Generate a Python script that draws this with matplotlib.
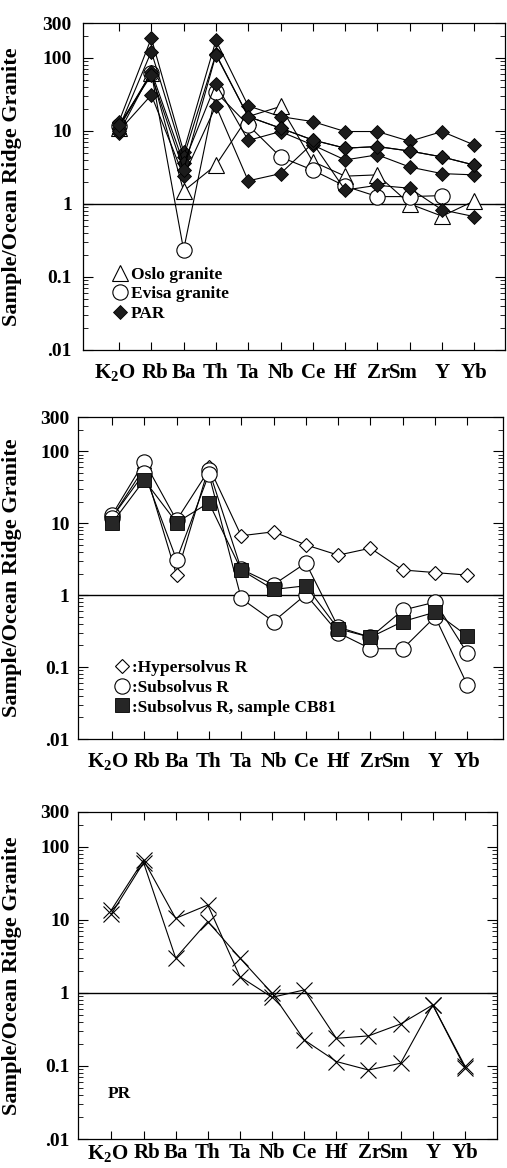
import numpy as np
import matplotlib
matplotlib.use("Agg")
import matplotlib.pyplot as plt
import matplotlib.transforms as mtransforms
from matplotlib.lines import Line2D
from matplotlib.ticker import LogLocator, NullFormatter

plt.rcParams["font.family"] = ["Liberation Serif", "DejaVu Serif"]
plt.rcParams["font.weight"] = "bold"
plt.rcParams["mathtext.fontset"] = "custom"
plt.rcParams["mathtext.rm"] = "Liberation Serif:bold"
plt.rcParams["mathtext.bf"] = "Liberation Serif:bold"
plt.rcParams["mathtext.it"] = "Liberation Serif:bold"
plt.rcParams["mathtext.default"] = "bf"

# ---- data -----------------------------------------------------------------
elements = [r"K$_2$O", "Rb", "Ba", "Th", "Ta", "Nb", "Ce", "Hf", "Zr", "Sm", "Y", "Yb"]
ytick_vals = [0.01, 0.1, 1, 10, 100, 300]
ytick_text = [".01", "0.1", "1", "10", "100", "300"]

# panel 1: Oslo granite, Evisa granite, PAR samples
oslo = [11, 62, 1.5, 3.4, 15.7, 21.6, 3.8, 2.4, 2.5, 1.0, 0.68, 1.1]
evisa = [11.5, 63, 0.235, 34, 12, 4.4, 2.9, 1.75, 1.26, 1.26, 1.3, np.nan]
par_1 = [13.4, 186, 5.2, 173, 22, 15.7, 13.4, 9.8, 9.8, 7.2, 9.8, 6.4]
par_2 = [11, 122, 4.4, 113, 15.7, 10.9, 7.5, 5.8, 6.1, 5.3, 4.4, 3.4]
par_3 = [9.4, 65, 3.6, 44, 7.4, 9.8, 6.4, 4.0, 4.7, 3.2, 2.6, 2.5]
par_4 = [10, 31, 2.4, 22, 2.07, 2.6, 6.8, 1.55, 1.8, 1.64, 0.83, 0.67]
par_5 = [12, 58, 2.9, 110, 15.7, 10.9, 7.5, 5.8, 6.1, 5.3, 4.4, 3.4]

# panel 2: hypersolvus and subsolvus granites
hypersolvus = [12, 59, 1.9, 61, 6.7, 7.6, 5.0, 3.6, 4.5, 2.24, 2.06, 1.9]
subsolvus_1 = [13, 72, 11, 55, 2.3, 1.4, 2.8, 0.36, 0.26, 0.62, 0.8, 0.155]
subsolvus_2 = [12, 50, 3.1, 48, 0.9, 0.43, 1.02, 0.3, 0.18, 0.18, 0.5, 0.056]
cb81 = [10, 40, 10.2, 19.3, 2.24, 1.2, 1.35, 0.34, 0.26, 0.43, 0.58, 0.27]

# panel 3: PR samples
pr_1 = [13.7, 66, 10.5, 16, 1.67, 0.87, 1.1, 0.239, 0.258, 0.376, 0.685, 0.1]
pr_2 = [12.1, 61, 3.0, 9.5, 3.0, 0.99, 0.227, 0.115, 0.088, 0.109, 0.685, 0.095]

# ---- layout ---------------------------------------------------------------
W, H = 507, 1168
fig = plt.figure(figsize=(W / 100, H / 100), dpi=100)


def px_axes(left, right, top, bottom):
    return fig.add_axes([left / W, (H - bottom) / H, (right - left) / W, (bottom - top) / H])


ax1 = px_axes(83, 505, 23, 350)
ax2 = px_axes(78, 503, 417, 739)
ax3 = px_axes(78, 497, 812, 1139)

x = np.arange(len(elements))
# small nudges of the element names relative to their ticks (category units)
label_nudge = np.array([-0.12, 0.1, 0, 0, 0, 0, 0, 0, 0.05, -0.2, 0, 0])

LINE = dict(color="black", lw=0.8)


def style_axes(ax, xlim, label_y, ypad, ylab_x):
    ax.set_yscale("log")
    ax.set_ylim(0.01, 300)
    ax.set_xlim(*xlim)
    ax.set_yticks(ytick_vals)
    ax.set_yticklabels(ytick_text)
    ax.yaxis.set_minor_locator(LogLocator(base=10, subs=np.arange(2, 10) * 1.0, numticks=30))
    ax.yaxis.set_minor_formatter(NullFormatter())
    ax.set_xticks(x)
    ax.set_xticklabels([])
    ax.tick_params(axis="y", which="major", direction="in", length=7, width=0.8,
                   left=True, right=True, labelsize=14, pad=ypad)
    ax.tick_params(axis="y", which="minor", direction="in", length=3.5, width=0.6,
                   left=True, right=True)
    ax.tick_params(axis="x", which="major", direction="in", length=6, width=0.8,
                   top=True, bottom=True)
    for lab in ax.get_yticklabels():
        lab.set_fontweight("bold")
    for sp in ax.spines.values():
        sp.set_linewidth(0.9)
    ax.axhline(1, color="black", lw=1.0, zorder=1)
    trans = mtransforms.blended_transform_factory(ax.transData, ax.transAxes)
    for name, xp in zip(elements, x + label_nudge):
        ax.text(xp, label_y, name, transform=trans, ha="center", va="center",
                fontsize=15, fontweight="bold", clip_on=False)
    ax.set_ylabel("Sample/Ocean Ridge Granite", fontsize=16, fontweight="bold")
    ax.yaxis.set_label_coords(ylab_x, 0.5)


# ---- panel 1 --------------------------------------------------------------
for s in (par_1, par_2, par_3, par_4, par_5):
    ax1.plot(x, s, marker="D", ms=7, mfc="#1c1c1c", mec="black", mew=0.6, zorder=3, **LINE)
ax1.plot(x, oslo, marker="^", ms=11, mfc="white", mec="black", mew=0.8, zorder=2, **LINE)
ax1.plot(x, evisa, marker="o", ms=11, mfc="white", mec="black", mew=0.8, zorder=2, **LINE)

style_axes(ax1, (-1.115, 11.95), -0.070, 8, -0.145)

h1 = [Line2D([], [], ls="none", marker="^", ms=11, mfc="white", mec="black", mew=0.8),
      Line2D([], [], ls="none", marker="o", ms=11, mfc="white", mec="black", mew=0.8),
      Line2D([], [], ls="none", marker="D", ms=7, mfc="#1c1c1c", mec="black", mew=0.6)]
ax1.legend(h1, ["Oslo granite", "Evisa granite", "PAR"], loc="upper left",
           bbox_to_anchor=(0.066, 0.255), frameon=False, handlelength=1.0,
           handletextpad=0.15, borderpad=0, borderaxespad=0, labelspacing=0.2,
           prop={"family": "Liberation Serif", "weight": "bold", "size": 12.5})

# ---- panel 2 --------------------------------------------------------------
ax2.plot(x, hypersolvus, marker="D", ms=7.5, mfc="white", mec="black", mew=0.8, zorder=2, **LINE)
ax2.plot(x, subsolvus_1, marker="o", ms=11, mfc="white", mec="black", mew=0.8, zorder=2, **LINE)
ax2.plot(x, subsolvus_2, marker="o", ms=11, mfc="white", mec="black", mew=0.8, zorder=2, **LINE)
ax2.plot(x, cb81, marker="s", ms=10, mfc="#262626", mec="black", mew=0.6, zorder=3, **LINE)

style_axes(ax2, (-1.05, 12.1), -0.071, 6, -0.132)

h2 = [Line2D([], [], ls="none", marker="D", ms=7.5, mfc="white", mec="black", mew=0.8),
      Line2D([], [], ls="none", marker="o", ms=11, mfc="white", mec="black", mew=0.8),
      Line2D([], [], ls="none", marker="s", ms=10, mfc="#262626", mec="black", mew=0.6)]
ax2.legend(h2, [":Hypersolvus R", ":Subsolvus R", ":Subsolvus R, sample CB81"],
           loc="upper left", bbox_to_anchor=(0.082, 0.245), frameon=False,
           handlelength=1.0, handletextpad=0.1, borderpad=0, borderaxespad=0,
           labelspacing=0.2,
           prop={"family": "Liberation Serif", "weight": "bold", "size": 12.5})

# ---- panel 3 --------------------------------------------------------------
for s in (pr_1, pr_2):
    ax3.plot(x, s, marker="x", ms=11, mec="black", mew=0.8, zorder=2, **LINE)

style_axes(ax3, (-1.04, 12.0), -0.043, 6, -0.134)
ax3.text(0.072, 0.138, "PR", transform=ax3.transAxes, ha="left", va="center",
         fontsize=12.5, fontweight="bold")

fig.savefig("out.png", dpi=100)
